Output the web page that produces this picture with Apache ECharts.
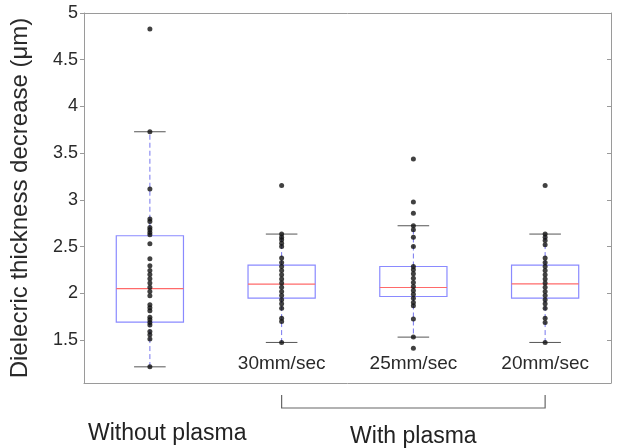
<!DOCTYPE html>
<html>
<head>
<meta charset="utf-8">
<script src="https://cdn.jsdelivr.net/npm/echarts@6/dist/echarts.min.js"></script>
<style>
  html, body { margin: 0; padding: 0; background: #fff; }
  #chart { width: 618px; height: 448px; }
</style>
</head>
<body>
<div id="chart"></div>
<script>
const categories = ['Without plasma', '30mm/sec', '25mm/sec', '20mm/sec'];
const yTicks = [1.5, 2, 2.5, 3, 3.5, 4, 4.5, 5];

// [lower whisker, q1, median, q3, upper whisker]
const boxStats = [
    [1.213, 1.692, 2.051, 2.616, 3.729],
    [1.474, 1.949, 2.098, 2.302, 2.634],
    [1.531, 1.966, 2.062, 2.287, 2.723],
    [1.474, 1.949, 2.100, 2.302, 2.634]
];

const pointsWithout = [4.83, 3.729, 3.115, 2.794, 2.769, 2.705, 2.680, 2.651, 2.626, 2.530, 2.369, 2.294, 2.244,
    2.202, 2.155, 2.109, 2.066, 2.020, 1.973, 1.877, 1.845, 1.813, 1.745, 1.716, 1.688, 1.660, 1.591, 1.556, 1.510, 1.213];
const points30 = [3.154, 2.634, 2.601, 2.573, 2.537, 2.501, 2.377, 2.330, 2.287, 2.244, 2.198, 2.152, 2.109,
    2.066, 2.020, 1.977, 1.930, 1.888, 1.841, 1.734, 1.698, 1.474];
const points25 = [3.437, 2.976, 2.858, 2.723, 2.680, 2.601, 2.501, 2.287, 2.252, 2.209, 2.162, 2.116, 2.073,
    2.030, 1.991, 1.948, 1.902, 1.866, 1.724, 1.531, 1.413];
const points20 = [3.154, 2.634, 2.601, 2.566, 2.519, 2.377, 2.330, 2.287, 2.244, 2.198, 2.152, 2.109, 2.066,
    2.020, 1.977, 1.930, 1.888, 1.841, 1.734, 1.688, 1.474];

const allPoints = [pointsWithout, points30, points25, points20];
const scatterData = [];
allPoints.forEach(function (arr, i) {
    arr.forEach(function (v) { scatterData.push([i, v]); });
});

const boxData = boxStats.map(function (s, i) { return [i].concat(s); });

const axisGrey = '#9a9a9a';
const textColor = '#2a2a2a';
const font = 'Liberation Sans, Arial, sans-serif';

const chart = echarts.init(document.getElementById('chart'));

function renderBox(params, api) {
    const x = api.value(0);
    const band = api.size([1, 0])[0];
    const half = band * 0.255;
    const capHalf = half * 0.47;
    const lo = api.coord([x, api.value(1)]);
    const q1 = api.coord([x, api.value(2)]);
    const med = api.coord([x, api.value(3)]);
    const q3 = api.coord([x, api.value(4)]);
    const hi = api.coord([x, api.value(5)]);
    const cx = lo[0];
    const dashStyle = { stroke: '#7777ee', lineWidth: 1, lineDash: [5, 3] };
    const capStyle = { stroke: '#555', lineWidth: 1 };
    return {
        type: 'group',
        children: [
            { type: 'line', shape: { x1: cx, y1: q3[1], x2: cx, y2: hi[1] }, style: dashStyle },
            { type: 'line', shape: { x1: cx, y1: q1[1], x2: cx, y2: lo[1] }, style: dashStyle },
            { type: 'line', shape: { x1: cx - capHalf, y1: hi[1], x2: cx + capHalf, y2: hi[1] }, style: capStyle },
            { type: 'line', shape: { x1: cx - capHalf, y1: lo[1], x2: cx + capHalf, y2: lo[1] }, style: capStyle },
            { type: 'rect', shape: { x: cx - half, y: q3[1], width: half * 2, height: q1[1] - q3[1] },
              style: { fill: 'none', stroke: '#8a8aff', lineWidth: 1.2 } },
            { type: 'line', shape: { x1: cx - half, y1: med[1], x2: cx + half, y2: med[1] },
              style: { stroke: '#ff6a6a', lineWidth: 1.2 } }
        ]
    };
}

const option = {
    animation: false,
    backgroundColor: '#fff',
    grid: { left: 83, right: 7, top: 13, bottom: 65 },
    xAxis: [
        {
            type: 'category',
            data: categories,
            position: 'bottom',
            axisLine: { lineStyle: { color: axisGrey } },
            axisTick: { inside: true, alignWithLabel: true, length: 5, lineStyle: { color: axisGrey } },
            axisLabel: {
                inside: true,
                margin: 10,
                color: textColor,
                fontSize: 19,
                fontFamily: font,
                formatter: function (v, i) { return i === 0 ? '' : v; }
            },
            splitLine: { show: false }
        },
        {
            type: 'category',
            data: categories,
            position: 'top',
            axisLine: { lineStyle: { color: axisGrey } },
            axisTick: { inside: true, alignWithLabel: true, length: 5, lineStyle: { color: axisGrey } },
            axisLabel: { show: false },
            splitLine: { show: false }
        }
    ],
    yAxis: [
        {
            type: 'value',
            min: 1.04,
            max: 5,
            name: 'Dielecric thickness decrease (\u03bcm)',
            nameLocation: 'middle',
            nameGap: 52,
            nameTextStyle: { color: textColor, fontSize: 24, fontFamily: font },
            axisLine: { show: true, lineStyle: { color: axisGrey } },
            axisTick: { show: true, length: 4, customValues: yTicks, lineStyle: { color: axisGrey } },
            axisLabel: { customValues: yTicks, margin: 6, color: textColor, fontSize: 18, fontFamily: font },
            splitLine: { show: false }
        },
        {
            type: 'value',
            min: 1.04,
            max: 5,
            position: 'right',
            axisLine: { show: true, lineStyle: { color: axisGrey } },
            axisTick: { show: true, inside: true, length: 4, customValues: yTicks, lineStyle: { color: axisGrey } },
            axisLabel: { show: false },
            splitLine: { show: false }
        }
    ],
    series: [
        {
            type: 'custom',
            renderItem: renderBox,
            data: boxData,
            encode: { x: 0, y: [1, 2, 3, 4, 5] },
            z: 2
        },
        {
            type: 'scatter',
            data: scatterData,
            symbolSize: 5,
            itemStyle: { color: '#111' },
            z: 3
        }
    ]
};
chart.setOption(option);

// bracket under the plasma groups and group captions
const p1 = chart.convertToPixel({ xAxisIndex: 0 }, 1);
const p3 = chart.convertToPixel({ xAxisIndex: 0 }, 3);
const p2 = chart.convertToPixel({ xAxisIndex: 0 }, 2);
chart.setOption({
    graphic: [
        {
            type: 'polyline',
            shape: { points: [[p1, 395], [p1, 408], [p3, 408], [p3, 395]] },
            style: { stroke: '#666', lineWidth: 1.2, fill: 'none' }
        },
        {
            type: 'text',
            left: 88,
            top: 422,
            style: { text: 'Without plasma', fill: '#222', font: '23px ' + font }
        },
        {
            type: 'text',
            x: p2,
            y: 425,
            style: { text: 'With plasma', fill: '#222', font: '23px ' + font, align: 'center' }
        }
    ]
});
</script>
</body>
</html>
